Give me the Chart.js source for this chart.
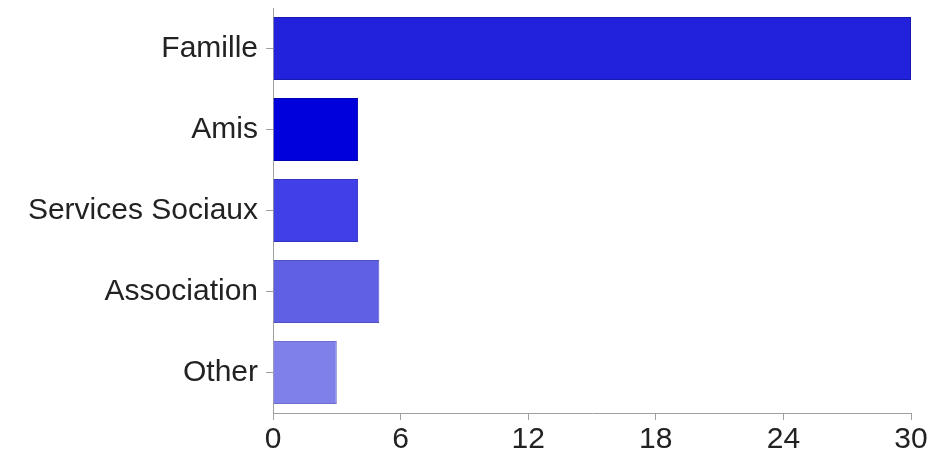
<!DOCTYPE html>
<html>
<head>
<meta charset="utf-8">
<script src="https://cdn.jsdelivr.net/npm/chart.js@4"></script>
<style>
    html, body { margin: 0; padding: 0; background: #fff; }
    #wrap { width: 931px; height: 457px; }
</style>
</head>
<body>
<div id="wrap"><canvas id="chart" width="931" height="457"></canvas></div>
<script>
const categories = ['Famille', 'Amis', 'Services Sociaux', 'Association', 'Other'];
const counts = [30, 4, 4, 5, 3];
const barColors = ['#2222dd', '#0000dc', '#4040e8', '#6060e4', '#8080ea'];
const barEdges = ['#1a1ab0', '#0000b0', '#3333c0', '#5050c0', '#7070cc'];
const tickValues = [0, 6, 12, 18, 24, 30];

const axisGray = '#a0a0a0';
const labelFont = { family: '"Liberation Sans", Arial, sans-serif', size: 30 };

new Chart(document.getElementById('chart'), {
    type: 'bar',
    data: {
        labels: categories,
        datasets: [{
            data: counts,
            backgroundColor: barColors,
            borderColor: barEdges,
            borderWidth: 1,
            categoryPercentage: 0.78,
            barPercentage: 1,
        }],
    },
    options: {
        indexAxis: 'y',
        responsive: false,
        animation: false,
        layout: { padding: { top: 8, right: 20, left: 0, bottom: 0 } },
        plugins: {
            legend: { display: false },
            tooltip: { enabled: false },
        },
        scales: {
            x: {
                min: tickValues[0],
                max: tickValues[tickValues.length - 1],
                afterBuildTicks: (scale) => {
                    scale.ticks = tickValues.map((value) => ({ value }));
                },
                afterFit: (scale) => { scale.height = 44; },
                grid: {
                    drawOnChartArea: false,
                    color: axisGray,
                    tickLength: 7,
                },
                border: { color: axisGray, width: 1 },
                ticks: {
                    color: '#222',
                    font: labelFont,
                    padding: 2,
                    maxRotation: 0,
                },
            },
            y: {
                afterFit: (scale) => {
                    // the reference has no extra room above the first bar
                    scale.width = 273;
                    scale.paddingTop = 0;
                    scale.paddingBottom = 0;
                },
                grid: {
                    drawOnChartArea: false,
                    offset: false,
                    color: axisGray,
                    tickLength: 7,
                },
                border: { color: axisGray, width: 1 },
                ticks: {
                    color: '#222',
                    font: labelFont,
                    padding: 8,
                },
            },
        },
    },
});
</script>
</body>
</html>
